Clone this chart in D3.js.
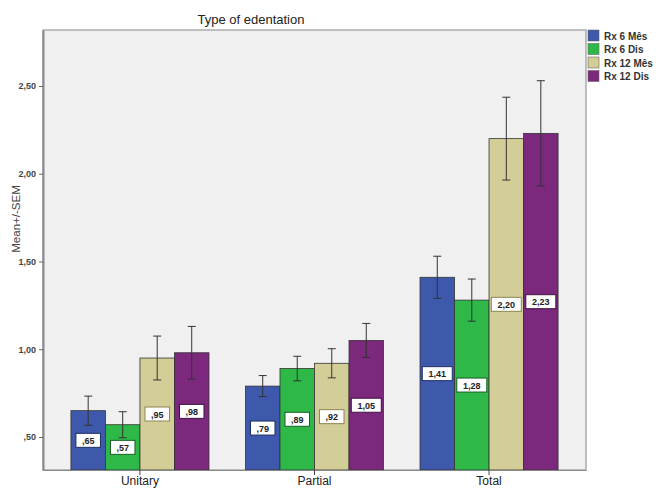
<!DOCTYPE html>
<html>
<head>
<meta charset="utf-8">
<script src="https://cdn.jsdelivr.net/npm/d3@7"></script>
<style>
  html, body { margin: 0; padding: 0; background: #fff; }
  svg { display: block; font-family: Arial, "Liberation Sans", sans-serif; }
</style>
</head>
<body>
<svg id="chart" width="662" height="490"></svg>
<script>
// Edentation groups and the four treatment series (mean and SEM)
const groups = ["Unitary", "Partial", "Total"];
const seriesNames = ["Rx 6 Mês", "Rx 6 Dis", "Rx 12 Mês", "Rx 12 Dis"];
const seriesColors = ["#3e58ac", "#2eb848", "#d3ce97", "#7c287d"];
const labelBorders = ["#1e2f66", "#175f25", "#8c8650", "#3e1340"];
const rx6Mes  = [0.65, 0.79, 1.41];
const rx6Dis  = [0.57, 0.89, 1.28];
const rx12Mes = [0.95, 0.92, 2.20];
const rx12Dis = [0.98, 1.05, 2.23];
const sem6Mes  = [0.083, 0.060, 0.120];
const sem6Dis  = [0.074, 0.070, 0.120];
const sem12Mes = [0.125, 0.083, 0.236];
const sem12Dis = [0.150, 0.097, 0.300];
const yTicks = [0.5, 1.0, 1.5, 2.0, 2.5];
const yMin = 0.312, yMax = 2.819;

const means = [rx6Mes, rx6Dis, rx12Mes, rx12Dis];
const sems = [sem6Mes, sem6Dis, sem12Mes, sem12Dis];

const rows = [];
groups.forEach((g, gi) => {
  seriesNames.forEach((s, si) => {
    rows.push({ group: g, series: s, si, value: means[si][gi], sem: sems[si][gi] });
  });
});

const svg = d3.select("#chart");
const plot = { left: 43, right: 586, top: 30, bottom: 470 };

const x0 = d3.scaleBand().domain(groups).range([plot.left, plot.right])
  .paddingInner(0.209).paddingOuter(0.16);
const x1 = d3.scaleBand().domain(seriesNames).range([0, x0.bandwidth()]);
const y = d3.scaleLinear().domain([yMin, yMax]).range([plot.bottom, plot.top]);

const fmt = v => {
  let s = v.toFixed(2).replace(".", ",");
  if (s.startsWith("0")) s = s.slice(1);
  return s;
};

// plot background
svg.append("rect")
  .attr("x", plot.left).attr("y", plot.top)
  .attr("width", plot.right - plot.left).attr("height", plot.bottom - plot.top)
  .attr("fill", "#f0f0f0").attr("stroke", "#9a9a9a").attr("stroke-width", 1.2);

// title
svg.append("text").attr("x", 251).attr("y", 24).attr("text-anchor", "middle")
  .attr("font-size", 13).attr("fill", "#222").text("Type of edentation");

// bars
const bars = svg.append("g");
bars.selectAll("rect").data(rows).join("rect")
  .attr("x", d => x0(d.group) + x1(d.series))
  .attr("y", d => y(d.value))
  .attr("width", x1.bandwidth())
  .attr("height", d => y(yMin) - y(d.value))
  .attr("fill", d => seriesColors[d.si])
  .attr("stroke", "#333").attr("stroke-width", 0.8);

// error bars
const err = svg.append("g").attr("stroke", "#333").attr("stroke-width", 1);
rows.forEach(d => {
  const cx = x0(d.group) + x1(d.series) + x1.bandwidth() / 2;
  const yt = y(d.value + d.sem), yb = y(d.value - d.sem);
  err.append("line").attr("x1", cx).attr("x2", cx).attr("y1", yt).attr("y2", yb);
  err.append("line").attr("x1", cx - 4).attr("x2", cx + 4).attr("y1", yt).attr("y2", yt);
  err.append("line").attr("x1", cx - 4).attr("x2", cx + 4).attr("y1", yb).attr("y2", yb);
});

// value labels at bar mid-height
const lab = svg.append("g");
rows.forEach(d => {
  const cx = x0(d.group) + x1(d.series) + x1.bandwidth() / 2;
  const cy = (y(d.value) + y(yMin)) / 2;
  const t = fmt(d.value);
  const w = t.length * 5.5 + 8;
  lab.append("rect").attr("x", cx - w / 2).attr("y", cy - 7).attr("width", w).attr("height", 14)
    .attr("fill", "#fff").attr("stroke", labelBorders[d.si]).attr("stroke-width", 1);
  lab.append("text").attr("x", cx).attr("y", cy + 3.5).attr("text-anchor", "middle")
    .attr("font-size", 9).attr("font-weight", "bold").attr("fill", "#222").text(t);
});

// y axis
const yAxis = svg.append("g").attr("transform", `translate(${plot.left},0)`)
  .call(d3.axisLeft(y).tickValues(yTicks).tickSize(4).tickSizeOuter(0).tickFormat(fmt));
yAxis.select(".domain").attr("stroke", "#888").attr("stroke-width", 2);
yAxis.selectAll(".tick line").attr("stroke", "#666");
yAxis.selectAll(".tick text").attr("font-size", 9).attr("font-weight", "bold")
  .attr("fill", "#444").attr("font-family", "Arial, 'Liberation Sans', sans-serif");

// x axis
const xAxis = svg.append("g").attr("transform", `translate(0,${plot.bottom})`)
  .call(d3.axisBottom(x0).tickSize(5).tickSizeOuter(0).tickPadding(1));
xAxis.select(".domain").attr("stroke", "#888").attr("stroke-width", 1.2);
xAxis.selectAll(".tick line").attr("stroke", "#444");
xAxis.selectAll(".tick text").attr("font-size", 12).attr("fill", "#222")
  .attr("font-family", "Arial, 'Liberation Sans', sans-serif");

// y axis title
svg.append("text").attr("transform", "translate(20,219) rotate(-90)")
  .attr("text-anchor", "middle").attr("font-size", 11.5).attr("fill", "#444")
  .text("Mean+/-SEM");

// legend
const legend = svg.append("g").attr("transform", "translate(588,30)");
seriesNames.forEach((s, i) => {
  const g = legend.append("g").attr("transform", `translate(0,${i * 13.5})`);
  g.append("rect").attr("width", 11).attr("height", 11)
    .attr("fill", seriesColors[i]).attr("stroke", "#666").attr("stroke-width", 0.6);
  g.append("text").attr("x", 16).attr("y", 9.5).attr("font-size", 10).attr("font-weight", "bold")
    .attr("fill", "#333").text(s);
});
</script>
</body>
</html>
